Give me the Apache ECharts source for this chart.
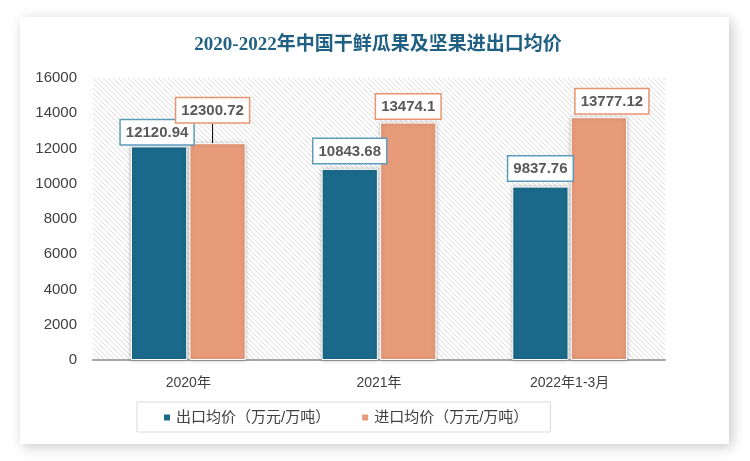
<!DOCTYPE html>
<html><head><meta charset="utf-8">
<script src="https://cdn.jsdelivr.net/npm/echarts@6/dist/echarts.min.js"></script>
<style>html,body{margin:0;padding:0;background:#fff}#c{width:750px;height:461px}</style>
</head><body><div id="c"></div>
<script>
const titleText = '2020-2022年中国干鲜瓜果及坚果进出口均价';
const categories = ['2020年', '2021年', '2022年1-3月'];
const exportName = '出口均价（万元/万吨）';
const importName = '进口均价（万元/万吨）';
const exportValues = [12120.94, 10843.68, 9837.76];
const importValues = [12300.72, 13474.1, 13777.12];
const yTicks = {min: 0, max: 16000, interval: 2000};

const pc = document.createElement('canvas');
pc.width = 5; pc.height = 5;
const px = pc.getContext('2d');
px.fillStyle = '#ffffff'; px.fillRect(0,0,5,5);
px.strokeStyle = '#dedede'; px.lineWidth = 1;
px.beginPath();
px.moveTo(-1,-1); px.lineTo(6,6);
px.moveTo(-1,4); px.lineTo(1,6);
px.moveTo(4,-1); px.lineTo(6,1);
px.stroke();

const importData = importValues.map((v, i) => ({
  value: v,
  labelLine: {show: i === 0, lineStyle: {color: '#000000', width: 1}}
}));

const chart = echarts.init(document.getElementById('c'));
const numFont = '"Liberation Sans", Arial, sans-serif';
const cjkFont = '"Liberation Sans", "Noto Sans CJK SC", sans-serif';
chart.setOption({
  animation: false,
  backgroundColor: '#ffffff',
  graphic: [{
    type: 'rect', z: -100, silent: true,
    shape: {x: 20, y: 17, width: 709, height: 427},
    style: {fill: '#ffffff', shadowBlur: 12, shadowColor: 'rgba(0,0,0,0.22)', shadowOffsetX: 3, shadowOffsetY: 3}
  }],
  title: {
    text: titleText, left: 373, top: 31, textAlign: 'center',
    textStyle: {fontSize: 19, fontWeight: 'bold', color: '#1f6083', fontFamily: '"Liberation Serif", "Noto Sans CJK SC", serif'}
  },
  grid: {
    left: 93, right: 85, top: 78, bottom: 101, show: true, borderWidth: 0,
    backgroundColor: {image: pc, repeat: 'repeat'}
  },
  legend: {
    left: 137, top: 402, itemWidth: 8, itemHeight: 8, itemGap: 30,
    icon: 'rect', borderColor: '#d9d9d9', borderWidth: 1, padding: [8, 22, 7, 25],
    textStyle: {fontSize: 15, color: '#404040', fontFamily: cjkFont},
    data: [exportName, importName]
  },
  xAxis: {
    type: 'category', data: categories,
    axisLine: {lineStyle: {color: '#a6a6a6', width: 2}},
    axisTick: {show: false},
    axisLabel: {fontSize: 14, color: '#404040', margin: 16, fontFamily: cjkFont}
  },
  yAxis: {
    type: 'value', min: yTicks.min, max: yTicks.max, interval: yTicks.interval,
    axisLine: {show: false}, axisTick: {show: false}, splitLine: {show: false},
    axisLabel: {fontSize: 15, color: '#404040', margin: 16, fontFamily: numFont, formatter: v => String(v)}
  },
  series: [{
    name: exportName, type: 'bar', data: exportValues,
    barWidth: '29.5%', barGap: '4%',
    itemStyle: {color: '#1b6a8c', borderColor: '#ffffff', borderWidth: 1, shadowBlur: 4, shadowColor: 'rgba(0,0,0,0.25)'},
    label: {
      show: true, position: 'top', distance: 6,
      fontSize: 15, fontWeight: 'bold', color: '#595959', fontFamily: numFont,
      backgroundColor: '#ffffff', borderColor: '#5b9cbb', borderWidth: 1.5,
      padding: [4, 5, 3, 5], lineHeight: 17
    },
    labelLine: {show: false}
  }, {
    name: importName, type: 'bar', data: importData,
    barWidth: '29.5%', barGap: '4%',
    itemStyle: {color: '#e89b7a', borderColor: '#ffffff', borderWidth: 1, shadowBlur: 4, shadowColor: 'rgba(0,0,0,0.25)'},
    label: {
      show: true, position: 'top', distance: 4,
      fontSize: 15, fontWeight: 'bold', color: '#595959', fontFamily: numFont,
      backgroundColor: '#ffffff', borderColor: '#e8946e', borderWidth: 1.5,
      padding: [4, 5, 3, 5], lineHeight: 17
    },
    labelLine: {show: false}
  }],
  labelLayout: function (p) {
    if (p.seriesIndex === 0 && p.dataIndex === 0) return {dy: 4, dx: -2};
    if (p.seriesIndex === 1 && p.dataIndex === 0) return {dy: -17, dx: -5};
    if (p.seriesIndex === 1 && p.dataIndex === 2) return {dx: 13};
    return {};
  }
});
</script></body></html>
